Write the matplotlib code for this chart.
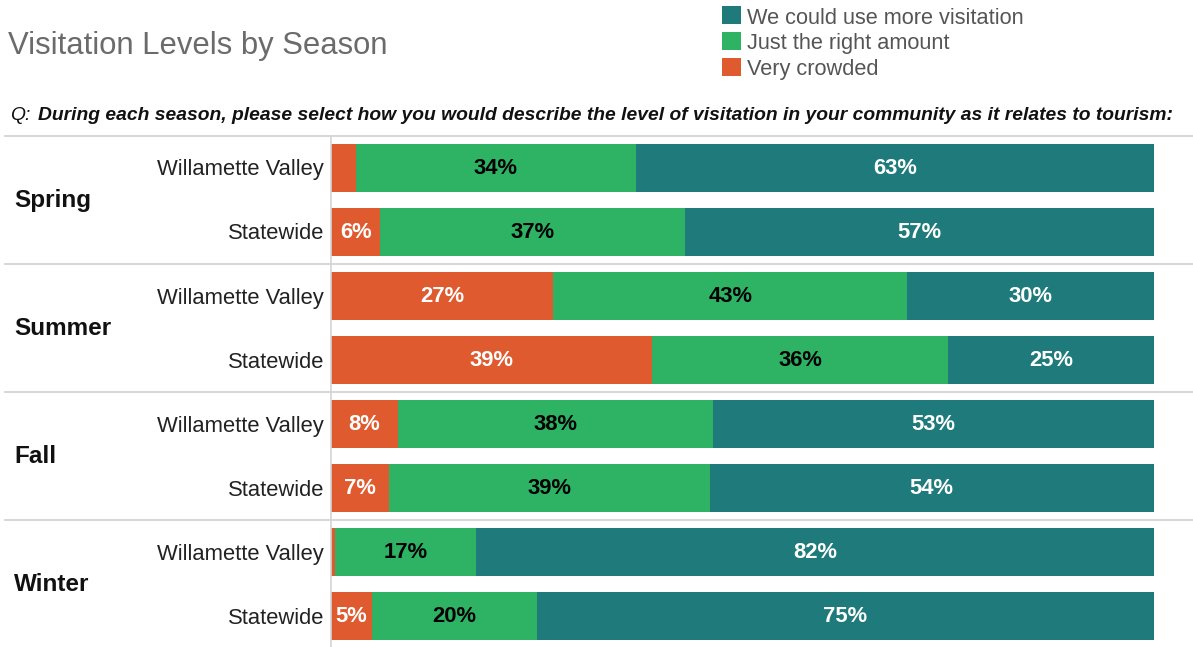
import numpy as np
import matplotlib
matplotlib.use("Agg")
import matplotlib.pyplot as plt
from matplotlib.patches import Rectangle
from matplotlib.lines import Line2D
from matplotlib.transforms import blended_transform_factory

plt.rcParams['font.family'] = ['Liberation Sans', 'DejaVu Sans']

seasons = ['Spring', 'Summer', 'Fall', 'Winter']
regions = ['Willamette Valley', 'Statewide']

# percentages, one entry per bar (season x region, top to bottom)
very_crowded = [3, 6, 27, 39, 8, 7, 0.5, 5]
right_amount = [34, 37, 43, 36, 38, 39, 17, 20]
more_visitation = [63, 57, 30, 25, 53, 54, 82, 75]

series_names = ['Very crowded', 'Just the right amount', 'We could use more visitation']
colors = ['#E05A2F', '#2EB364', '#1F7A7B']
text_colors = ['white', 'black', 'white']

values = np.array([very_crowded, right_amount, more_visitation], dtype=float)
shares = values / values.sum(axis=0) * 100

W, H = 1193, 647
fig = plt.figure(figsize=(W / 100, H / 100), dpi=100)
ax = fig.add_axes([331 / W, 0, 1 - 331 / W, 1 - 136 / H])

rows = np.arange(len(very_crowded))
left = np.zeros(len(rows))
for k in range(3):
    ax.barh(rows, shares[k], left=left, height=0.75, color=colors[k], linewidth=0)
    for r in rows:
        if values[k, r] >= 4:
            ax.text(left[r] + shares[k, r] / 2, r, f'{values[k, r]:.0f}%',
                    ha='center', va='center', fontsize=15.8, fontweight='bold',
                    color=text_colors[k])
    left += shares[k]

ax.set_xlim(0, 100 * (W - 331) / 823)
ax.set_ylim(7.48, -0.5)
ax.set_xticks([])
ax.set_yticks([])
for s in ['top', 'right', 'bottom']:
    ax.spines[s].set_visible(False)
ax.spines['left'].set_color('#d4d4d4')
ax.spines['left'].set_linewidth(1.2)

# region labels and season labels
for r in rows:
    ax.text(-0.85, r + 0.03, regions[r % 2], ha='right', va='center',
            fontsize=15.8, color='#222222')
trans = blended_transform_factory(fig.transFigure, ax.transData)
for i, season in enumerate(seasons):
    fig.text(14 / W, 2 * i + 0.5, season, transform=trans, fontsize=17.5,
             fontweight='bold', ha='left', va='center', color='#111111')

# horizontal separators between season groups
for y in [-0.5, 1.5, 3.5, 5.5]:
    fig.add_artist(Line2D([5 / W, 1], [y, y], transform=trans, color='#d4d4d4',
                          linewidth=1.3, clip_on=False))

fig.text(8 / W, 1 - 46 / H, 'Visitation Levels by Season', fontsize=22.3,
         color='#6b6b6b', ha='left', va='center')
fig.text(10 / W, 1 - 115 / H, 'Q:', fontsize=13.85, style='italic', ha='left',
         va='center', color='#111111')
fig.text(38 / W, 1 - 115 / H,
         'During each season, please select how you would describe the level of '
         'visitation in your community as it relates to tourism:',
         fontsize=13.85, style='italic', fontweight='bold', ha='left', va='center',
         color='#111111')

# legend: colour squares with labels, top right
for j, k in enumerate([2, 1, 0]):
    yc = 15 + 26 * j
    fig.add_artist(Rectangle((722 / W, 1 - (yc + 9) / H), 19 / W, 18 / H,
                             transform=fig.transFigure, facecolor=colors[k],
                             edgecolor='none'))
    fig.text(747 / W, 1 - (yc + 3) / H, series_names[k], fontsize=15.7,
             color='#555555', ha='left', va='center')

fig.savefig('out.png', dpi=100)
